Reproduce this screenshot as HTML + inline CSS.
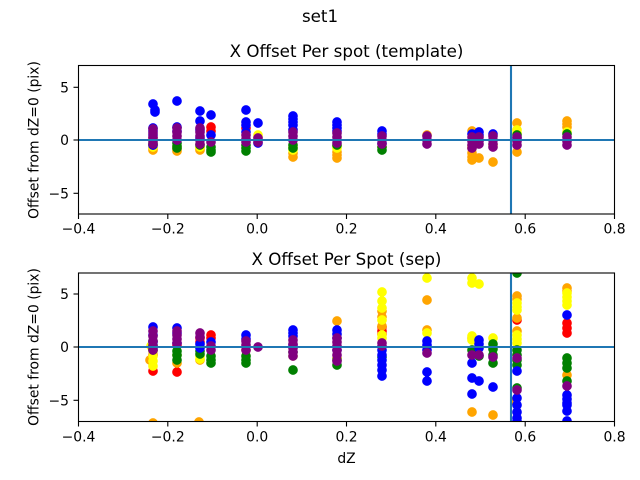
<!DOCTYPE html>
<html><head><meta charset="utf-8"><style>
html,body{margin:0;padding:0;background:#fff;}
svg{display:block;}
text{font-family:"DejaVu Sans","Liberation Sans",sans-serif;fill:#000;}
</style></head><body>
<svg width="640" height="480" viewBox="0 0 640 480" xmlns="http://www.w3.org/2000/svg">
<defs>
<clipPath id="c1"><rect x="78.5" y="65.5" width="536" height="148.5"/></clipPath>
<clipPath id="c2"><rect x="78.5" y="273" width="536" height="148.5"/></clipPath>
</defs>
<rect width="640" height="480" fill="#fff"/>
<text x="320" y="22" font-size="16.7" text-anchor="middle">set1</text>

<!-- TOP AXES -->
<text x="346.5" y="57" font-size="16.7" text-anchor="middle">X Offset Per spot (template)</text>
<g clip-path="url(#c1)">
<g fill="#ff0000" stroke="#ff0000" stroke-width="1.3">
<circle cx="211" cy="127" r="4.2"/><circle cx="211" cy="131" r="4.2"/><circle cx="246" cy="128" r="4.2"/><circle cx="153" cy="138" r="4.2"/>
</g>
<g fill="#ffa500" stroke="#ffa500" stroke-width="1.3">
<circle cx="153" cy="150" r="4.2"/><circle cx="153" cy="148" r="4.2"/><circle cx="177" cy="151" r="4.2"/><circle cx="177" cy="149" r="4.2"/>
<circle cx="200" cy="150" r="4.2"/><circle cx="200" cy="148" r="4.2"/><circle cx="293" cy="157" r="4.2"/><circle cx="293" cy="153" r="4.2"/>
<circle cx="337" cy="158" r="4.2"/><circle cx="337" cy="155" r="4.2"/><circle cx="337" cy="152" r="4.2"/><circle cx="427" cy="135" r="4.2"/>
<circle cx="472" cy="131" r="4.2"/><circle cx="472" cy="153" r="4.2"/><circle cx="472" cy="157" r="4.2"/><circle cx="472" cy="160" r="4.2"/>
<circle cx="472" cy="148" r="4.2"/><circle cx="479" cy="158" r="4.2"/><circle cx="493" cy="162" r="4.2"/><circle cx="517" cy="123" r="4.2"/>
<circle cx="517" cy="152" r="4.2"/><circle cx="567" cy="121" r="4.2"/><circle cx="567" cy="124" r="4.2"/><circle cx="567" cy="127" r="4.2"/>
<circle cx="258" cy="137" r="4.2"/>
</g>
<g fill="#ffff00" stroke="#ffff00" stroke-width="1.3">
<circle cx="153" cy="147" r="4.2"/><circle cx="177" cy="147" r="4.2"/><circle cx="200" cy="147" r="4.2"/><circle cx="258" cy="135" r="4.2"/>
<circle cx="293" cy="150" r="4.2"/><circle cx="293" cy="147" r="4.2"/><circle cx="337" cy="148" r="4.2"/><circle cx="337" cy="146" r="4.2"/>
<circle cx="472" cy="146" r="4.2"/><circle cx="517" cy="130" r="4.2"/><circle cx="517" cy="133" r="4.2"/><circle cx="567" cy="132" r="4.2"/>
<circle cx="493" cy="145" r="4.2"/><circle cx="382" cy="147" r="4.2"/>
</g>
<g fill="#008000" stroke="#008000" stroke-width="1.3">
<circle cx="153" cy="145" r="4.2"/><circle cx="153" cy="143" r="4.2"/><circle cx="177" cy="143" r="4.2"/><circle cx="177" cy="146" r="4.2"/>
<circle cx="177" cy="148" r="4.2"/><circle cx="200" cy="145" r="4.2"/><circle cx="211" cy="147" r="4.2"/><circle cx="211" cy="150" r="4.2"/>
<circle cx="211" cy="152" r="4.2"/><circle cx="246" cy="145" r="4.2"/><circle cx="246" cy="148" r="4.2"/><circle cx="246" cy="151" r="4.2"/>
<circle cx="293" cy="148" r="4.2"/><circle cx="293" cy="145" r="4.2"/><circle cx="337" cy="145" r="4.2"/><circle cx="382" cy="150" r="4.2"/>
<circle cx="382" cy="147" r="4.2"/><circle cx="517" cy="135" r="4.2"/><circle cx="567" cy="134" r="4.2"/>
</g>
<g fill="#0000ff" stroke="#0000ff" stroke-width="1.3">
<circle cx="153" cy="104" r="4.2"/><circle cx="155" cy="110" r="4.2"/><circle cx="155" cy="112" r="4.2"/><circle cx="153" cy="128" r="4.2"/>
<circle cx="153" cy="131" r="4.2"/><circle cx="153" cy="135" r="4.2"/><circle cx="153" cy="145" r="4.2"/>
<circle cx="177" cy="101" r="4.2"/><circle cx="177" cy="127" r="4.2"/><circle cx="177" cy="131" r="4.2"/><circle cx="177" cy="140" r="4.2"/>
<circle cx="200" cy="111" r="4.2"/><circle cx="200" cy="121" r="4.2"/><circle cx="200" cy="130" r="4.2"/><circle cx="200" cy="138" r="4.2"/>
<circle cx="211" cy="115" r="4.2"/><circle cx="211" cy="135" r="4.2"/>
<circle cx="246" cy="110" r="4.2"/><circle cx="246" cy="122" r="4.2"/><circle cx="246" cy="125" r="4.2"/><circle cx="246" cy="132" r="4.2"/>
<circle cx="258" cy="123" r="4.2"/><circle cx="258" cy="143" r="4.2"/>
<circle cx="293" cy="116" r="4.2"/><circle cx="293" cy="119" r="4.2"/><circle cx="293" cy="122" r="4.2"/><circle cx="293" cy="125" r="4.2"/><circle cx="293" cy="130" r="4.2"/>
<circle cx="337" cy="122" r="4.2"/><circle cx="337" cy="125" r="4.2"/><circle cx="337" cy="128" r="4.2"/><circle cx="337" cy="131" r="4.2"/>
<circle cx="382" cy="131" r="4.2"/><circle cx="382" cy="134" r="4.2"/><circle cx="382" cy="143" r="4.2"/>
<circle cx="472" cy="134" r="4.2"/><circle cx="479" cy="132" r="4.2"/><circle cx="479" cy="135" r="4.2"/><circle cx="493" cy="134" r="4.2"/><circle cx="517" cy="138" r="4.2"/>
</g>
<g fill="#800080" stroke="#800080" stroke-width="1.3">
<circle cx="153" cy="129" r="4.2"/><circle cx="153" cy="133" r="4.2"/><circle cx="153" cy="137" r="4.2"/><circle cx="153" cy="141" r="4.2"/><circle cx="153" cy="144" r="4.2"/>
<circle cx="177" cy="128" r="4.2"/><circle cx="177" cy="132" r="4.2"/><circle cx="177" cy="136" r="4.2"/><circle cx="177" cy="140" r="4.2"/>
<circle cx="200" cy="128" r="4.2"/><circle cx="200" cy="132" r="4.2"/><circle cx="200" cy="136" r="4.2"/><circle cx="200" cy="140" r="4.2"/><circle cx="200" cy="144" r="4.2"/>
<circle cx="211" cy="142" r="4.2"/>
<circle cx="246" cy="135" r="4.2"/><circle cx="246" cy="139" r="4.2"/><circle cx="246" cy="142" r="4.2"/>
<circle cx="258" cy="138" r="4.2"/><circle cx="258" cy="142" r="4.2"/>
<circle cx="293" cy="132" r="4.2"/><circle cx="293" cy="136" r="4.2"/><circle cx="293" cy="140" r="4.2"/>
<circle cx="337" cy="133" r="4.2"/><circle cx="337" cy="137" r="4.2"/><circle cx="337" cy="140" r="4.2"/><circle cx="337" cy="143" r="4.2"/>
<circle cx="382" cy="136" r="4.2"/><circle cx="382" cy="140" r="4.2"/><circle cx="382" cy="144" r="4.2"/>
<circle cx="427" cy="136" r="4.2"/><circle cx="427" cy="140" r="4.2"/><circle cx="427" cy="144" r="4.2"/>
<circle cx="472" cy="137" r="4.2"/><circle cx="472" cy="141" r="4.2"/><circle cx="472" cy="145" r="4.2"/><circle cx="472" cy="148" r="4.2"/>
<circle cx="479" cy="137" r="4.2"/><circle cx="479" cy="141" r="4.2"/><circle cx="479" cy="144" r="4.2"/>
<circle cx="493" cy="136" r="4.2"/><circle cx="493" cy="140" r="4.2"/><circle cx="493" cy="144" r="4.2"/><circle cx="493" cy="147" r="4.2"/>
<circle cx="517" cy="137" r="4.2"/><circle cx="517" cy="141" r="4.2"/><circle cx="517" cy="145" r="4.2"/>
<circle cx="567" cy="137" r="4.2"/><circle cx="567" cy="141" r="4.2"/><circle cx="567" cy="145" r="4.2"/>
</g>
<line x1="78.5" y1="140" x2="614.5" y2="140" stroke="#1f77b4" stroke-width="2.1"/>
<line x1="511" y1="65.5" x2="511" y2="214" stroke="#1f77b4" stroke-width="2.1"/>
</g>
<rect x="78.5" y="65.5" width="536" height="148.5" fill="none" stroke="#000" stroke-width="1.1"/>
<g stroke="#000" stroke-width="1.1">
<line x1="78.5" y1="214" x2="78.5" y2="219"/><line x1="167.8" y1="214" x2="167.8" y2="219"/><line x1="257.2" y1="214" x2="257.2" y2="219"/>
<line x1="346.5" y1="214" x2="346.5" y2="219"/><line x1="435.8" y1="214" x2="435.8" y2="219"/><line x1="525.2" y1="214" x2="525.2" y2="219"/><line x1="614.5" y1="214" x2="614.5" y2="219"/>
<line x1="73.5" y1="87.3" x2="78.5" y2="87.3"/><line x1="73.5" y1="140" x2="78.5" y2="140"/><line x1="73.5" y1="193.3" x2="78.5" y2="193.3"/>
</g>
<g font-size="13.9" text-anchor="middle">
<text x="78.5" y="233.5">−0.4</text><text x="167.8" y="233.5">−0.2</text><text x="257.2" y="233.5">0.0</text><text x="346.5" y="233.5">0.2</text>
<text x="435.8" y="233.5">0.4</text><text x="525.2" y="233.5">0.6</text><text x="614.5" y="233.5">0.8</text>
</g>
<g font-size="13.9" text-anchor="end">
<text x="69" y="92.3">5</text><text x="69" y="145">0</text><text x="69" y="198.3">−5</text>
</g>
<text transform="translate(38.5,140) rotate(-90)" font-size="13.9" text-anchor="middle">Offset from dZ=0 (pix)</text>

<!-- BOTTOM AXES -->
<text x="346.5" y="265" font-size="16.7" text-anchor="middle">X Offset Per Spot (sep)</text>
<g clip-path="url(#c2)">
<g fill="#ff0000" stroke="#ff0000" stroke-width="1.3">
<circle cx="153" cy="371" r="4.2"/><circle cx="153" cy="355" r="4.2"/><circle cx="177" cy="372" r="4.2"/><circle cx="177" cy="345" r="4.2"/>
<circle cx="200" cy="338" r="4.2"/><circle cx="200" cy="342" r="4.2"/><circle cx="211" cy="335" r="4.2"/><circle cx="211" cy="338" r="4.2"/>
<circle cx="382" cy="331" r="4.2"/><circle cx="382" cy="327" r="4.2"/><circle cx="382" cy="334" r="4.2"/>
<circle cx="567" cy="323" r="4.2"/><circle cx="567" cy="328" r="4.2"/><circle cx="567" cy="333" r="4.2"/><circle cx="517" cy="320" r="4.2"/>
</g>
<g fill="#ffa500" stroke="#ffa500" stroke-width="1.3">
<circle cx="150" cy="360" r="4.2"/><circle cx="153" cy="423" r="4.2"/><circle cx="177" cy="363" r="4.2"/><circle cx="200" cy="360" r="4.2"/>
<circle cx="199" cy="422" r="4.2"/><circle cx="246" cy="350" r="4.2"/><circle cx="337" cy="321" r="4.2"/><circle cx="337" cy="358" r="4.2"/>
<circle cx="382" cy="311" r="4.2"/><circle cx="382" cy="326" r="4.2"/><circle cx="382" cy="317" r="4.2"/><circle cx="427" cy="300" r="4.2"/>
<circle cx="427" cy="330" r="4.2"/><circle cx="472" cy="412" r="4.2"/><circle cx="472" cy="338" r="4.2"/><circle cx="493" cy="415" r="4.2"/>
<circle cx="517" cy="296" r="4.2"/><circle cx="517" cy="299" r="4.2"/><circle cx="517" cy="331" r="4.2"/><circle cx="515" cy="401" r="4.2"/>
<circle cx="517" cy="318" r="4.2"/><circle cx="567" cy="288" r="4.2"/><circle cx="567" cy="375" r="4.2"/><circle cx="567" cy="291" r="4.2"/>
</g>
<g fill="#ffff00" stroke="#ffff00" stroke-width="1.3">
<circle cx="153" cy="351" r="4.2"/><circle cx="153" cy="356" r="4.2"/><circle cx="153" cy="361" r="4.2"/><circle cx="153" cy="366" r="4.2"/><circle cx="151" cy="346" r="4.2"/>
<circle cx="177" cy="355" r="4.2"/><circle cx="200" cy="356" r="4.2"/><circle cx="200" cy="359" r="4.2"/><circle cx="293" cy="356" r="4.2"/>
<circle cx="382" cy="292" r="4.2"/><circle cx="382" cy="301" r="4.2"/><circle cx="382" cy="308" r="4.2"/><circle cx="382" cy="320" r="4.2"/><circle cx="382" cy="338" r="4.2"/><circle cx="382" cy="335" r="4.2"/>
<circle cx="427" cy="278" r="4.2"/><circle cx="427" cy="333" r="4.2"/>
<circle cx="472" cy="278" r="4.2"/><circle cx="472" cy="283" r="4.2"/><circle cx="472" cy="336" r="4.2"/><circle cx="472" cy="340" r="4.2"/>
<circle cx="479" cy="284" r="4.2"/><circle cx="493" cy="338" r="4.2"/>
<circle cx="517" cy="303" r="4.2"/><circle cx="517" cy="307" r="4.2"/><circle cx="517" cy="310" r="4.2"/><circle cx="517" cy="335" r="4.2"/><circle cx="517" cy="339" r="4.2"/><circle cx="517" cy="343" r="4.2"/>
<circle cx="567" cy="293" r="4.2"/><circle cx="567" cy="297" r="4.2"/><circle cx="567" cy="301" r="4.2"/><circle cx="567" cy="305" r="4.2"/>
</g>
<g fill="#008000" stroke="#008000" stroke-width="1.3">
<circle cx="153" cy="345" r="4.2"/><circle cx="153" cy="350" r="4.2"/><circle cx="153" cy="341" r="4.2"/>
<circle cx="177" cy="351" r="4.2"/><circle cx="177" cy="355" r="4.2"/><circle cx="177" cy="360" r="4.2"/>
<circle cx="200" cy="351" r="4.2"/><circle cx="200" cy="354" r="4.2"/>
<circle cx="211" cy="356" r="4.2"/><circle cx="211" cy="360" r="4.2"/><circle cx="211" cy="363" r="4.2"/>
<circle cx="246" cy="356" r="4.2"/><circle cx="246" cy="360" r="4.2"/><circle cx="246" cy="363" r="4.2"/>
<circle cx="293" cy="352" r="4.2"/><circle cx="293" cy="370" r="4.2"/><circle cx="337" cy="365" r="4.2"/><circle cx="337" cy="360" r="4.2"/>
<circle cx="382" cy="357" r="4.2"/><circle cx="472" cy="350" r="4.2"/><circle cx="479" cy="356" r="4.2"/>
<circle cx="493" cy="344" r="4.2"/><circle cx="493" cy="349" r="4.2"/><circle cx="493" cy="355" r="4.2"/><circle cx="493" cy="363" r="4.2"/>
<circle cx="517" cy="273" r="4.2"/><circle cx="517" cy="350" r="4.2"/><circle cx="517" cy="355" r="4.2"/><circle cx="517" cy="360" r="4.2"/><circle cx="517" cy="365" r="4.2"/><circle cx="517" cy="388" r="4.2"/>
<circle cx="567" cy="358" r="4.2"/><circle cx="567" cy="363" r="4.2"/><circle cx="567" cy="368" r="4.2"/><circle cx="567" cy="381" r="4.2"/>
</g>
<g fill="#0000ff" stroke="#0000ff" stroke-width="1.3">
<circle cx="153" cy="327" r="4.2"/><circle cx="153" cy="335" r="4.2"/><circle cx="153" cy="342" r="4.2"/><circle cx="153" cy="348" r="4.2"/>
<circle cx="177" cy="328" r="4.2"/><circle cx="177" cy="333" r="4.2"/><circle cx="177" cy="343" r="4.2"/>
<circle cx="200" cy="348" r="4.2"/><circle cx="200" cy="344" r="4.2"/><circle cx="211" cy="342" r="4.2"/>
<circle cx="246" cy="335" r="4.2"/><circle cx="246" cy="339" r="4.2"/>
<circle cx="293" cy="330" r="4.2"/><circle cx="293" cy="333" r="4.2"/><circle cx="293" cy="336" r="4.2"/><circle cx="293" cy="345" r="4.2"/>
<circle cx="337" cy="330" r="4.2"/><circle cx="337" cy="334" r="4.2"/><circle cx="337" cy="338" r="4.2"/><circle cx="337" cy="350" r="4.2"/>
<circle cx="382" cy="350" r="4.2"/><circle cx="382" cy="355" r="4.2"/><circle cx="382" cy="360" r="4.2"/><circle cx="382" cy="365" r="4.2"/><circle cx="382" cy="370" r="4.2"/><circle cx="382" cy="376" r="4.2"/>
<circle cx="427" cy="341" r="4.2"/><circle cx="427" cy="345" r="4.2"/><circle cx="427" cy="350" r="4.2"/><circle cx="427" cy="372" r="4.2"/><circle cx="427" cy="381" r="4.2"/>
<circle cx="472" cy="363" r="4.2"/><circle cx="472" cy="378" r="4.2"/><circle cx="472" cy="394" r="4.2"/>
<circle cx="479" cy="340" r="4.2"/><circle cx="479" cy="344" r="4.2"/><circle cx="479" cy="348" r="4.2"/><circle cx="479" cy="381" r="4.2"/>
<circle cx="493" cy="387" r="4.2"/>
<circle cx="517" cy="371" r="4.2"/><circle cx="517" cy="398" r="4.2"/><circle cx="517" cy="405" r="4.2"/><circle cx="517" cy="412" r="4.2"/><circle cx="517" cy="418" r="4.2"/><circle cx="517" cy="421" r="4.2"/>
<circle cx="567" cy="315" r="4.2"/><circle cx="567" cy="395" r="4.2"/><circle cx="567" cy="399" r="4.2"/><circle cx="567" cy="403" r="4.2"/><circle cx="567" cy="405" r="4.2"/><circle cx="567" cy="411" r="4.2"/><circle cx="567" cy="421" r="4.2"/>
</g>
<g fill="#800080" stroke="#800080" stroke-width="1.3">
<circle cx="153" cy="331" r="4.2"/><circle cx="153" cy="336" r="4.2"/><circle cx="153" cy="341" r="4.2"/><circle cx="153" cy="346" r="4.2"/><circle cx="153" cy="350" r="4.2"/>
<circle cx="177" cy="331" r="4.2"/><circle cx="177" cy="335" r="4.2"/><circle cx="177" cy="339" r="4.2"/><circle cx="177" cy="343" r="4.2"/>
<circle cx="200" cy="333" r="4.2"/><circle cx="200" cy="337" r="4.2"/>
<circle cx="211" cy="346" r="4.2"/><circle cx="211" cy="350" r="4.2"/>
<circle cx="246" cy="341" r="4.2"/><circle cx="246" cy="345" r="4.2"/><circle cx="246" cy="350" r="4.2"/>
<circle cx="258" cy="347" r="4.2"/>
<circle cx="293" cy="340" r="4.2"/><circle cx="293" cy="344" r="4.2"/><circle cx="293" cy="348" r="4.2"/><circle cx="293" cy="352" r="4.2"/><circle cx="293" cy="356" r="4.2"/>
<circle cx="337" cy="338" r="4.2"/><circle cx="337" cy="342" r="4.2"/><circle cx="337" cy="346" r="4.2"/><circle cx="337" cy="350" r="4.2"/><circle cx="337" cy="355" r="4.2"/><circle cx="337" cy="361" r="4.2"/>
<circle cx="382" cy="343" r="4.2"/><circle cx="382" cy="346" r="4.2"/>
<circle cx="427" cy="353" r="4.2"/><circle cx="472" cy="355" r="4.2"/><circle cx="479" cy="355" r="4.2"/><circle cx="493" cy="357" r="4.2"/>
<circle cx="517" cy="358" r="4.2"/><circle cx="517" cy="390" r="4.2"/><circle cx="567" cy="386" r="4.2"/>
</g>
<line x1="78.5" y1="347" x2="614.5" y2="347" stroke="#1f77b4" stroke-width="2.1"/>
<line x1="511" y1="273" x2="511" y2="421.5" stroke="#1f77b4" stroke-width="2.1"/>
</g>
<rect x="78.5" y="273" width="536" height="148.5" fill="none" stroke="#000" stroke-width="1.1"/>
<g stroke="#000" stroke-width="1.1">
<line x1="78.5" y1="421.5" x2="78.5" y2="426.5"/><line x1="167.8" y1="421.5" x2="167.8" y2="426.5"/><line x1="257.2" y1="421.5" x2="257.2" y2="426.5"/>
<line x1="346.5" y1="421.5" x2="346.5" y2="426.5"/><line x1="435.8" y1="421.5" x2="435.8" y2="426.5"/><line x1="525.2" y1="421.5" x2="525.2" y2="426.5"/><line x1="614.5" y1="421.5" x2="614.5" y2="426.5"/>
<line x1="73.5" y1="294" x2="78.5" y2="294"/><line x1="73.5" y1="347" x2="78.5" y2="347"/><line x1="73.5" y1="400.3" x2="78.5" y2="400.3"/>
</g>
<g font-size="13.9" text-anchor="middle">
<text x="78.5" y="441.5">−0.4</text><text x="167.8" y="441.5">−0.2</text><text x="257.2" y="441.5">0.0</text><text x="346.5" y="441.5">0.2</text>
<text x="435.8" y="441.5">0.4</text><text x="525.2" y="441.5">0.6</text><text x="614.5" y="441.5">0.8</text>
</g>
<g font-size="13.9" text-anchor="end">
<text x="69" y="299">5</text><text x="69" y="352">0</text><text x="69" y="405.3">−5</text>
</g>
<text transform="translate(38.5,347) rotate(-90)" font-size="13.9" text-anchor="middle">Offset from dZ=0 (pix)</text>
<text x="346.5" y="463" font-size="13.9" text-anchor="middle">dZ</text>
</svg>
</body></html>
